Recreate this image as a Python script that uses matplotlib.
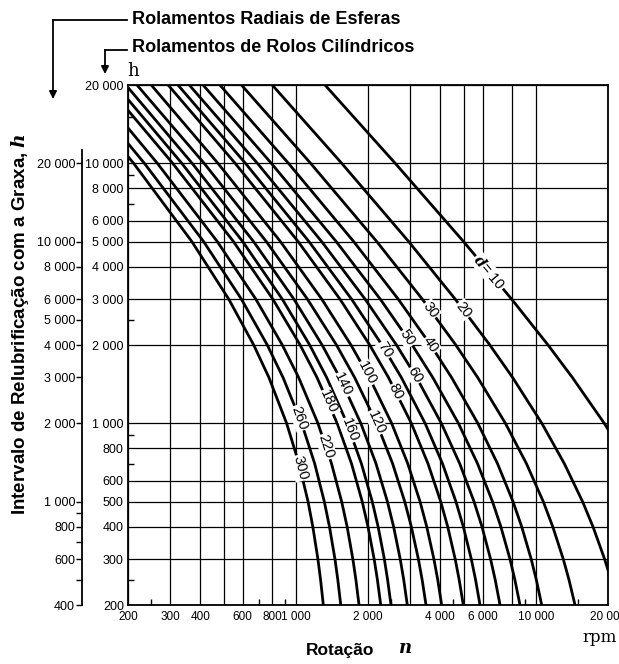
import matplotlib
matplotlib.use("Agg")
import matplotlib.pyplot as plt
from matplotlib import font_manager
from matplotlib.lines import Line2D

_fonts = {f.name for f in font_manager.fontManager.ttflist}
TICKF = "Liberation Sans" if "Liberation Sans" in _fonts else "DejaVu Sans"
NARROW = "Liberation Sans Narrow" if "Liberation Sans Narrow" in _fonts else TICKF

plt.rcParams["mathtext.fontset"] = "custom"
plt.rcParams["mathtext.it"] = "DejaVu Serif:italic:bold"
plt.rcParams["mathtext.rm"] = "DejaVu Serif"

# interval h (roller scale) where each curve was read
h_levels = [20000, 10000, 5000, 3000, 2000, 1500, 1000, 700, 500, 400, 300, 250, 200]

# speed n (rpm) read on each d curve at those h levels
n_d10 = [1324, 2596, 5000, 7941, 11250, 14210, 19290, 24550]
n_d20 = [798, 1554, 2954, 4621, 6436, 8008, 10598, 13150, 15665, 17320, 19368, 20584]
n_d30 = [594, 1153, 2175, 3369, 4644, 5728, 7473, 9143, 10744, 11775, 13025, 13756, 14572]
n_d40 = [483, 932, 1743, 2674, 3647, 4459, 5736, 6926, 8038, 8739, 9575, 10055, 10587]
n_d50 = [411, 791, 1474, 2251, 3057, 3723, 4761, 5718, 6602, 7156, 7811, 8185, 8597]
n_d60 = [360, 692, 1282, 1946, 2628, 3185, 4042, 4820, 5530, 5970, 6485, 6778, 7098]
n_d70 = [323, 617, 1135, 1709, 2288, 2754, 3459, 4086, 4648, 4992, 5390, 5614, 5857]
n_d80 = [294, 559, 1023, 1529, 2033, 2434, 3031, 3555, 4017, 4297, 4618, 4797, 4991]
n_d100 = [250, 474, 863, 1284, 1699, 2026, 2509, 2928, 3294, 3514, 3765, 3905, 4055]
n_d120 = [218, 415, 754, 1119, 1478, 1759, 2174, 2532, 2844, 3031, 3244, 3362, 3490]
n_d140 = [196, 370, 667, 983, 1288, 1525, 1867, 2159, 2409, 2557, 2725, 2818, 2916]
n_d160 = [178, 335, 601, 879, 1143, 1345, 1635, 1877, 2083, 2204, 2340, 2414, 2494]
n_d180 = [163, 307, 550, 803, 1043, 1226, 1488, 1707, 1892, 2000, 2122, 2189, 2260]
n_d220 = [142, 265, 471, 682, 879, 1028, 1237, 1409, 1553, 1637, 1730, 1781, 1835]
n_d260 = [126, 234, 413, 594, 761, 885, 1058, 1199, 1315, 1382, 1457, 1497, 1540]
n_d300 = [114, 211, 369, 526, 668, 773, 916, 1031, 1125, 1178, 1237, 1269, 1303]

curves = [n_d10, n_d20, n_d30, n_d40, n_d50, n_d60, n_d70, n_d80,
          n_d100, n_d120, n_d140, n_d160, n_d180, n_d220, n_d260, n_d300]

# inline curve labels
label_text = ["$d$= 10", "20", "30", "40", "50", "60", "70", "80",
              "100", "120", "140", "160", "180", "220", "260", "300"]
label_n = [6400, 5005, 3643, 3647, 2921, 3142, 2357, 2620,
           1980, 2164, 1578, 1676, 1367, 1339, 1038, 1042]
label_h = [3800, 2728, 2726, 2000, 2130, 1532, 1914, 1320,
           1561, 1010, 1408, 943, 1208, 813, 1050, 673]
label_rot = [-50, -52, -53, -56, -56, -59, -58, -63,
             -62, -66, -64, -69, -66, -72, -70, -75]

# axes ticks
x_grid = [200, 300, 400, 500, 600, 800, 1000, 2000, 3000, 4000, 5000, 6000, 8000, 10000, 20000]
x_lab = ["200", "300", "400", "", "600", "800", "1 000", "2 000", "", "4 000", "", "6 000", "", "10 000", "20 000"]
x_minor = [250, 700, 900, 2500, 4500, 7000, 9000, 15000]

y_grid = [200, 300, 400, 500, 600, 800, 1000, 2000, 3000, 4000, 5000, 6000, 8000, 10000, 20000]
y_lab = ["200", "300", "400", "500", "600", "800", "1 000", "2 000", "3 000", "4 000", "5 000",
         "6 000", "8 000", "10 000", "20 000"]
y_minor = [250, 700, 900, 2500, 7000, 9000, 15000]

# ball bearing scale (twice the roller scale)
o_ticks = [400, 600, 800, 1000, 2000, 3000, 4000, 5000, 6000, 8000, 10000, 20000]
o_lab = ["400", "600", "800", "1 000", "2 000", "3 000", "4 000", "5 000", "6 000", "8 000", "10 000", "20 000"]
o_minor = [500, 700, 900]

W, H = 619, 664


def fp(x, y):
    return (x / W, 1 - y / H)


fig = plt.figure(figsize=(W / 100, H / 100), dpi=100)
ax = fig.add_axes([128 / W, 1 - 605 / H, 480 / W, 520 / H])
ax.set_xscale("log")
ax.set_yscale("log")
ax.set_xlim(200, 20000)
ax.set_ylim(200, 20000)

ax.set_xticks(x_grid)
ax.set_xticklabels(x_lab)
ax.set_xticks(x_minor, minor=True)
ax.set_yticks(y_grid)
ax.set_yticklabels(y_lab)
ax.set_yticks(y_minor, minor=True)
ax.xaxis.set_minor_formatter(plt.NullFormatter())
ax.yaxis.set_minor_formatter(plt.NullFormatter())
ax.tick_params(which="major", length=0)
ax.tick_params(axis="x", which="major", labelsize=8.5, pad=4)
ax.tick_params(axis="y", which="major", labelsize=9, pad=3)
ax.tick_params(which="minor", direction="in", length=4, width=1.0)
for t in ax.get_xticklabels() + ax.get_yticklabels():
    t.set_fontfamily(TICKF)
ax.grid(True, which="major", color="black", lw=0.9)
for s in ax.spines.values():
    s.set_linewidth(1.3)

for n_vals in curves:
    ax.plot(n_vals, h_levels[:len(n_vals)], color="black", lw=2.0, zorder=3,
            solid_capstyle="butt")

for txt, n, h, r in zip(label_text, label_n, label_h, label_rot):
    ax.text(n, h, txt, rotation=r, rotation_mode="anchor", ha="center", va="center",
            fontsize=10.5, family=TICKF, zorder=4,
            bbox=dict(facecolor="white", edgecolor="none", pad=0.6))

# outer scale for radial ball bearings
oax = fig.add_axes([82 / W, 1 - 605 / H, 0.0001, 520 / H])
oax.set_yscale("log")
oax.set_ylim(400, 40000)
oax.set_xticks([])
oax.set_yticks(o_ticks)
oax.set_yticklabels(o_lab)
oax.set_yticks(o_minor, minor=True)
oax.yaxis.set_minor_formatter(plt.NullFormatter())
oax.tick_params(which="both", direction="out", length=4, width=1.0, labelsize=9, pad=1)
for t in oax.get_yticklabels():
    t.set_fontfamily(TICKF)
for k in ["top", "right", "bottom"]:
    oax.spines[k].set_visible(False)
oax.spines["left"].set_linewidth(1.3)
oax.spines["left"].set_bounds(400, 22500)
oax.patch.set_visible(False)

# headers with arrows
fig.text(*fp(132, 20), "Rolamentos Radiais de Esferas", fontsize=13, fontweight="bold",
         family=NARROW, va="center", ha="left")
fig.text(*fp(132, 48), "Rolamentos de Rolos Cilíndricos", fontsize=13, fontweight="bold",
         family=NARROW, va="center", ha="left")
fig.add_artist(Line2D([127 / W, 53 / W], [1 - 20 / H, 1 - 20 / H], transform=fig.transFigure,
                      color="black", lw=1.3))
fig.add_artist(Line2D([127 / W, 105 / W], [1 - 50 / H, 1 - 50 / H], transform=fig.transFigure,
                      color="black", lw=1.3))
ax.annotate("", xy=fp(53, 99), xytext=fp(53, 20), xycoords="figure fraction",
            textcoords="figure fraction", annotation_clip=False,
            arrowprops=dict(arrowstyle="-|>", color="black", lw=1.3, mutation_scale=11,
                            shrinkA=0, shrinkB=0))
ax.annotate("", xy=fp(105, 74), xytext=fp(105, 50), xycoords="figure fraction",
            textcoords="figure fraction", annotation_clip=False,
            arrowprops=dict(arrowstyle="-|>", color="black", lw=1.3, mutation_scale=11,
                            shrinkA=0, shrinkB=0))

fig.text(*fp(127, 71), "h", fontsize=13, family="DejaVu Serif", va="center", ha="left")
fig.text(*fp(600, 638), "rpm", fontsize=12, family="DejaVu Serif", va="center", ha="center")
fig.text(*fp(340, 651), "Rotação", fontsize=12.5, fontweight="bold", family=NARROW,
         va="center", ha="center")
fig.text(*fp(405, 648), "$n$", fontsize=13, va="center", ha="center")
fig.text(*fp(20, 324), "Intervalo de Relubrificação com a Graxa, $h$", fontsize=13.5,
         fontweight="bold", family=NARROW, rotation=90, va="center", ha="center")

fig.savefig("out.png", dpi=100)
